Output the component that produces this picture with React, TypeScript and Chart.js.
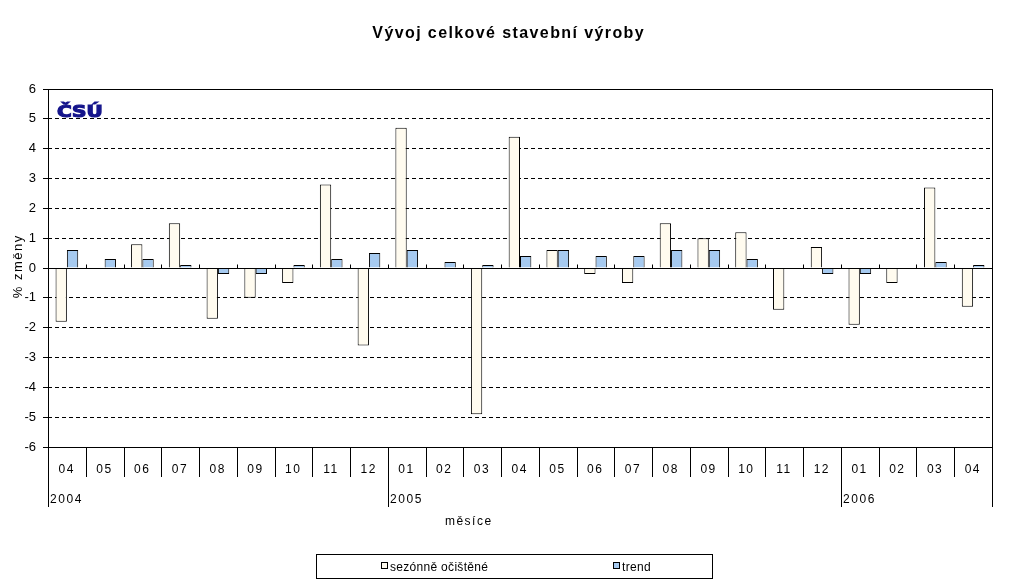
import React, { useEffect, useRef } from 'react';
import { Chart, registerables } from 'chart.js';

Chart.register(...registerables);

const TITLE = 'Vývoj celkové stavební výroby';
const Y_TITLE = '% změny';
const X_TITLE = 'měsíce';
const LOGO = 'ČSÚ';

const months = ['04', '05', '06', '07', '08', '09', '10', '11', '12', '01', '02', '03', '04', '05', '06', '07', '08', '09', '10', '11', '12', '01', '02', '03', '04'];
const yearLabels = ['2004', '2005', '2006'];
const yearStartIndex = [0, 9, 21];

const seasonal = [-1.8, 0, 0.8, 1.5, -1.7, -1.0, -0.5, 2.8, -2.6, 4.7, 0, -4.9, 4.4, 0.6, -0.2, -0.5, 1.5, 1.0, 1.2, -1.4, 0.7, -1.9, -0.5, 2.7, -1.3];
const trend = [0.6, 0.3, 0.3, 0.1, -0.2, -0.2, 0.1, 0.3, 0.5, 0.6, 0.2, 0.1, 0.4, 0.6, 0.4, 0.4, 0.6, 0.6, 0.3, 0, -0.2, -0.2, 0, 0.2, 0.1];

const seriesNames = ['sezónně očištěné', 'trend'];
const seriesColors = ['#FFFBEF', '#A6CAF0'];

const Y_MIN = -6;
const Y_MAX = 6;
const Y_STEP = 1;

const FONT = "'Liberation Sans', Arial, sans-serif";

const overlayPlugin = {
  id: 'overlay',
  afterDraw(chart: any) {
    const { ctx, chartArea: a, scales } = chart;
    const xs = scales.x;
    const ys = scales.y;
    const n = months.length;
    const half = (xs.getPixelForValue(1) - xs.getPixelForValue(0)) / 2;
    const bound = (i: number) => (i < n ? xs.getPixelForValue(i) - half : xs.getPixelForValue(n - 1) + half);
    const px = (v: number) => Math.round(v) + 0.5;
    const line = (x1: number, y1: number, x2: number, y2: number) => {
      ctx.beginPath();
      ctx.moveTo(x1, y1);
      ctx.lineTo(x2, y2);
      ctx.stroke();
    };
    const spaced = (text: string, x: number, y: number, spacing: number, align: 'left' | 'center') => {
      (ctx as any).letterSpacing = `${spacing}px`;
      ctx.textAlign = 'left';
      const w = ctx.measureText(text).width - spacing;
      const sx = align === 'center' ? x - w / 2 : x;
      ctx.fillText(text, sx, y);
      (ctx as any).letterSpacing = '0px';
    };

    ctx.save();
    ctx.strokeStyle = '#000';
    ctx.lineWidth = 1;
    ctx.setLineDash([]);

    const L = Math.round(a.left);
    const R = Math.round(a.right);
    const T = Math.round(a.top);
    const B = Math.round(a.bottom);

    // plot frame
    ctx.strokeRect(L + 0.5, T + 0.5, R - L, B - T);

    // zero axis line
    const y0 = px(ys.getPixelForValue(0));
    line(L, y0, R + 1, y0);

    // category separators
    for (let i = 0; i <= n; i++) {
      const bx = px(bound(i));
      if (i > 0 && i < n) line(bx, y0, bx, y0 - 4);
      const isYear = i === 0 || i === n || yearStartIndex.includes(i);
      line(bx, B, bx, B + (isYear ? 60 : 30));
    }

    // category labels
    ctx.fillStyle = '#000';
    ctx.font = `12px ${FONT}`;
    ctx.textBaseline = 'alphabetic';
    months.forEach((m, i) => {
      spaced(m, xs.getPixelForValue(i) - 1, B + 26, 1.5, 'center');
    });

    // year labels
    yearLabels.forEach((yl, k) => {
      spaced(yl, Math.round(bound(yearStartIndex[k])) + 2, B + 56, 1.6, 'left');
    });

    // x axis title
    spaced(X_TITLE, 468, 525, 1.5, 'center');

    // y axis title
    ctx.save();
    ctx.translate(22, 267);
    ctx.rotate(-Math.PI / 2);
    ctx.font = `13px ${FONT}`;
    spaced(Y_TITLE, 0, 0, 1.5, 'center');
    ctx.restore();

    // chart title
    ctx.font = `bold 16px ${FONT}`;
    spaced(TITLE, 508, 38, 1.4, 'center');

    // logo
    ctx.save();
    ctx.translate(57, 117);
    ctx.scale(1.25, 1);
    ctx.font = `bold 16px 'DejaVu Sans', sans-serif`;
    ctx.fillStyle = '#15158C';
    ctx.strokeStyle = '#15158C';
    ctx.lineWidth = 1.2;
    ctx.textAlign = 'left';
    ctx.fillText(LOGO, 0, 0);
    ctx.strokeText(LOGO, 0, 0);
    ctx.restore();

    // legend
    ctx.fillStyle = '#fff';
    ctx.fillRect(316.5, 554.5, 396, 24);
    ctx.strokeRect(316.5, 554.5, 396, 24);
    const legendX = [381, 613];
    ctx.font = `12px ${FONT}`;
    seriesNames.forEach((nm, i) => {
      ctx.fillStyle = seriesColors[i];
      ctx.fillRect(legendX[i] + 0.5, 562.5, 6, 6);
      ctx.strokeRect(legendX[i] + 0.5, 562.5, 6, 6);
      ctx.fillStyle = '#000';
      spaced(nm, legendX[i] + 9, 571, 0.3, 'left');
    });

    ctx.restore();
  },
};

export default function App() {
  const ref = useRef<HTMLCanvasElement | null>(null);

  useEffect(() => {
    document.body.style.margin = '0';
    const canvas = ref.current;
    if (!canvas) return;
    const chart = new Chart(canvas, {
      type: 'bar',
      data: {
        labels: months,
        datasets: [
          {
            label: seriesNames[0],
            data: seasonal,
            backgroundColor: seriesColors[0],
            borderColor: '#000',
            borderWidth: 1,
            categoryPercentage: 0.6,
            barPercentage: 1.0,
          },
          {
            label: seriesNames[1],
            data: trend,
            backgroundColor: seriesColors[1],
            borderColor: '#000',
            borderWidth: 1,
            categoryPercentage: 0.6,
            barPercentage: 1.0,
          },
        ],
      },
      options: {
        responsive: false,
        animation: false,
        devicePixelRatio: 1,
        layout: { padding: { top: 89, right: 28, bottom: 141, left: 0 } },
        plugins: {
          legend: { display: false },
          title: { display: false },
          tooltip: { enabled: false },
        },
        scales: {
          x: {
            type: 'category',
            display: false,
            offset: true,
          },
          y: {
            min: Y_MIN,
            max: Y_MAX,
            afterFit: (scale: any) => {
              scale.width = 48;
            },
            ticks: {
              stepSize: Y_STEP,
              color: '#000',
              padding: 7,
              font: { family: FONT, size: 13 },
            },
            grid: {
              color: '#000',
              lineWidth: 1,
              drawTicks: true,
              tickLength: 5,
              tickColor: '#000',
            },
            border: {
              display: false,
              dash: [4, 3],
            },
          },
        },
      },
      plugins: [overlayPlugin],
    });
    return () => chart.destroy();
  }, []);

  return (
    <div style={{ width: 1020, height: 588, background: '#fff' }}>
      <canvas ref={ref} width={1020} height={588} style={{ display: 'block' }} />
    </div>
  );
}
